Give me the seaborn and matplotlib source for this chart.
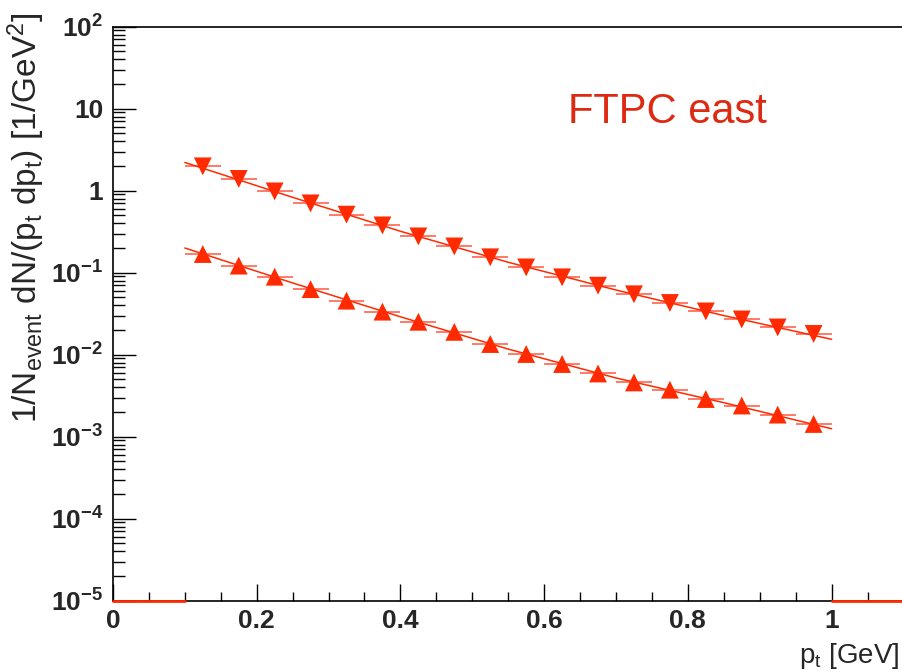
import numpy as np
import pandas as pd
import matplotlib
matplotlib.use("Agg")
import matplotlib.pyplot as plt
from matplotlib import font_manager
import seaborn as sns
from matplotlib.ticker import FixedLocator, NullFormatter, LogLocator

# ---- data ----
pt = [0.125, 0.175, 0.225, 0.275, 0.325, 0.375, 0.425, 0.475, 0.525,
      0.575, 0.625, 0.675, 0.725, 0.775, 0.825, 0.875, 0.925, 0.975]
upper = [1.98, 1.39, 0.98, 0.70, 0.51, 0.377, 0.277, 0.209, 0.154,
         0.116, 0.0877, 0.0694, 0.0545, 0.0427, 0.0337, 0.0269, 0.0215, 0.0179]
lower = [0.169, 0.122, 0.0893, 0.063, 0.0456, 0.0335, 0.0252, 0.019, 0.0135,
         0.0102, 0.0077, 0.0059, 0.00459, 0.00374, 0.00288, 0.0024, 0.00186, 0.00143]
pt_halfwidth = 0.025

fit_pt = [0.10, 0.25, 0.40, 0.55, 0.70, 0.85, 1.00]
fit_upper = [2.21, 0.83, 0.32, 0.134, 0.0615, 0.030, 0.0154]
fit_lower = [0.20, 0.075, 0.029, 0.0117, 0.0052, 0.0026, 0.00125]

empty_lo = [0.0, 0.1]
empty_hi = [1.0, 1.1]
floor_val = 1e-5

x_ticks = [0, 0.2, 0.4, 0.6, 0.8, 1.0]
x_ticklabels = ["0", "0.2", "0.4", "0.6", "0.8", "1"]
y_ticks = [1e-5, 1e-4, 1e-3, 1e-2, 1e-1, 1, 10, 100]
y_ticklabels = [r"$\mathbf{10^{-5}}$", r"$\mathbf{10^{-4}}$", r"$\mathbf{10^{-3}}$",
                r"$\mathbf{10^{-2}}$", r"$\mathbf{10^{-1}}$", "1", "10", r"$\mathbf{10^{2}}$"]
annot = "FTPC east"

# ---- style ----
sns.set_style("white")
plt.rcParams["font.family"] = ["Liberation Sans", "DejaVu Sans"]
installed = {f.name for f in font_manager.fontManager.ttflist}
tick_font = "Liberation Sans Narrow" if "Liberation Sans Narrow" in installed else "Liberation Sans"
plt.rcParams["mathtext.fontset"] = "custom"
plt.rcParams["mathtext.rm"] = "Liberation Sans"
plt.rcParams["mathtext.it"] = "Liberation Sans"
plt.rcParams["mathtext.bf"] = tick_font + ":bold"

RED = "#FF2A00"
ERR = "#FF6F5E"

fig = plt.figure(figsize=(9.03, 6.72), dpi=100)
ax = fig.add_axes([0.1251, 0.1061, 0.8754, 0.8542])

df = pd.DataFrame({"pt": pt * 2,
                   "val": upper + lower,
                   "series": ["up"] * len(pt) + ["low"] * len(pt)})
fit_df = pd.DataFrame({"pt": fit_pt * 2,
                       "val": fit_upper + fit_lower,
                       "series": ["up"] * len(fit_pt) + ["low"] * len(fit_pt)})

# error bars (x)
ax.errorbar(pt, upper, xerr=pt_halfwidth, fmt="none", ecolor=ERR, elinewidth=1.3, capsize=0, zorder=2)
ax.errorbar(pt, lower, xerr=pt_halfwidth, fmt="none", ecolor=ERR, elinewidth=1.3, capsize=0, zorder=2)

# fit curves
sns.lineplot(data=fit_df, x="pt", y="val", units="series", estimator=None,
             color=RED, linewidth=1.1, ax=ax, zorder=3)

# markers
sns.scatterplot(data=df, x="pt", y="val", style="series", markers={"up": "v", "low": "^"},
                color=RED, s=165, linewidth=0, ax=ax, legend=False, zorder=4)

# empty bins along the floor
ax.plot(empty_lo, [floor_val, floor_val], color=RED, linewidth=2, zorder=5, clip_on=False)
ax.plot(empty_hi, [floor_val, floor_val], color=RED, linewidth=2, zorder=5, clip_on=False)

ax.set_yscale("log")
ax.set_xlim(0, 1.1)
ax.set_ylim(1e-5, 1e2)

ax.xaxis.set_major_locator(FixedLocator(x_ticks))
ax.set_xticklabels(x_ticklabels, fontsize=19, fontweight="bold", family=tick_font)
ax.xaxis.set_minor_locator(FixedLocator(np.arange(0, 1.1001, 0.05)))
ax.yaxis.set_major_locator(FixedLocator(y_ticks))
ax.set_yticklabels(y_ticklabels, fontsize=19, fontweight="bold", family=tick_font)
ax.yaxis.set_minor_locator(LogLocator(base=10, subs=np.arange(2, 10), numticks=20))
ax.yaxis.set_minor_formatter(NullFormatter())

ax.tick_params(axis="y", which="major", direction="in", length=16.5, width=1, color="black", pad=7,
               left=True, right=False)
ax.tick_params(axis="y", which="minor", direction="in", length=8.5, width=1, color="black",
               left=True, right=False)
ax.tick_params(axis="x", which="major", direction="in", length=12, width=1, color="black", pad=6,
               bottom=True, top=False)
ax.tick_params(axis="x", which="minor", direction="in", length=6.5, width=1, color="black",
               bottom=True, top=False)

for s in ["left", "bottom", "top"]:
    ax.spines[s].set_color("black")
    ax.spines[s].set_linewidth(1.2)
ax.spines["right"].set_visible(False)

ax.set_xlabel(r"p$_{\rm t}$ [GeV]", fontsize=20, ha="right", x=0.995, labelpad=6)
ax.set_ylabel(r"1/N$_{\rm event}$ dN/(p$_{\rm t}$ dp$_{\rm t}$) [1/GeV$^{2}$]", fontsize=24,
              ha="right", y=1.024, labelpad=3)

ax.text(0.701, 0.851, annot, transform=ax.transAxes, fontsize=30, color="#DD2A12",
        ha="center", va="center")

fig.savefig("out.png", dpi=100)
